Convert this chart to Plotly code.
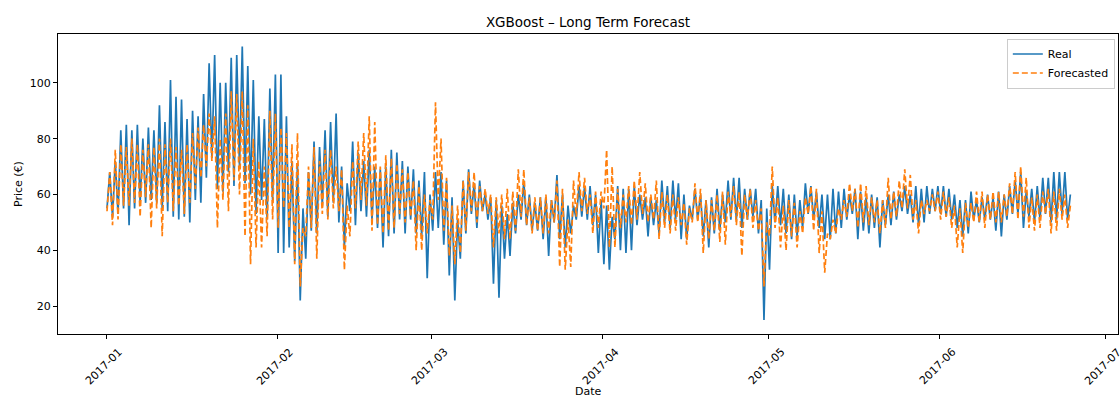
import pandas as pd
import plotly.graph_objects as go

# Daily highs / lows (Jan 1 .. Jun 24, 2017)
real_high = [
    68, 72, 83, 85, 83, 85, 80,
    84, 83, 92, 86, 101, 95, 94,
    87, 90, 88, 96, 107, 110, 100,
    100, 109, 110, 113, 106, 101, 88,
    87, 98, 103, 103, 88, 72, 71,
    55, 68, 79, 77, 83, 86, 89,
    70, 64, 79, 75, 72, 76, 70,
    69, 70, 76, 75, 72, 70, 69,
    65, 68, 60, 68, 68, 65, 59,
    51, 65, 69, 64, 65, 60, 59,
    58, 56, 53, 57, 60, 65, 60,
    57, 59, 59, 58, 67, 60, 56,
    56, 63, 63, 63, 60, 58, 56,
    52, 63, 62, 62, 63, 60, 59,
    59, 58, 65, 63, 65, 64, 60,
    56, 62, 60, 58, 59, 62, 60,
    65, 66, 66, 62, 62, 62, 58,
    55, 63, 63, 62, 60, 60, 58,
    64, 63, 61, 60, 60, 62, 61,
    62, 60, 62, 61, 59, 60, 59,
    58, 60, 61, 60, 63, 60, 63,
    62, 63, 62, 63, 63, 62, 60,
    58, 58, 61, 58, 59, 60, 59,
    61, 60, 63, 65, 68, 61, 62,
    63, 66, 66, 68, 68, 68, 60,
]
real_low = [
    55, 52, 53, 55, 49, 55, 57,
    57, 58, 57, 55, 54, 52, 51,
    52, 50, 58, 57, 66, 73, 62,
    61, 68, 63, 70, 64, 60, 53,
    58, 51, 58, 39, 39, 41, 36,
    22, 37, 47, 46, 56, 52, 57,
    50, 41, 54, 49, 54, 52, 51,
    48, 41, 45, 46, 51, 46, 51,
    46, 45, 30, 47, 48, 42, 31,
    22, 37, 46, 53, 48, 54, 51,
    28, 23, 37, 38, 46, 51, 49,
    47, 47, 44, 38, 50, 44, 41,
    46, 51, 52, 51, 49, 39, 35,
    33, 44, 40, 39, 40, 49, 51,
    45, 49, 46, 50, 48, 51, 44,
    44, 51, 51, 45, 41, 46, 47,
    50, 51, 51, 48, 51, 52, 46,
    15, 33, 50, 49, 46, 44, 45,
    48, 53, 51, 48, 44, 44, 46,
    48, 51, 53, 44, 47, 46, 48,
    41, 49, 49, 51, 54, 53, 50,
    49, 50, 53, 54, 53, 52, 51,
    48, 45, 46, 51, 50, 51, 51,
    47, 45, 51, 53, 53, 48, 52,
    50, 51, 53, 50, 51, 53, 51,
]
fc_high = [
    68, 76, 78, 77, 80, 78, 76,
    78, 77, 80, 78, 80, 77, 76,
    78, 82, 84, 85, 89, 88, 80,
    89, 97, 96, 97, 92, 80, 72,
    70, 90, 89, 84, 82, 78, 82,
    48, 70, 77, 72, 76, 76, 70,
    69, 56, 72, 79, 82, 88, 86,
    70, 74, 73, 71, 69, 68, 65,
    63, 60, 58, 93, 80, 66, 56,
    56, 65, 68, 68, 63, 62, 60,
    59, 60, 62, 61, 69, 69, 59,
    59, 59, 60, 58, 65, 62, 51,
    65, 68, 66, 60, 61, 61, 76,
    70, 62, 60, 63, 65, 68, 64,
    60, 65, 61, 60, 60, 59, 57,
    55, 64, 62, 58, 58, 60, 61,
    61, 63, 61, 60, 62, 58, 55,
    50, 70, 59, 56, 58, 57, 54,
    59, 63, 62, 54, 46, 51, 55,
    58, 64, 62, 64, 63, 59, 58,
    58, 66, 61, 65, 69, 67, 58,
    58, 58, 60, 61, 61, 59, 56,
    55, 57, 57, 61, 61, 60, 61,
    61, 60, 64, 68, 70, 66, 59,
    60, 61, 62, 61, 62, 60, 56,
]
fc_low = [
    54, 49, 51, 56, 56, 57, 52,
    59, 48, 55, 45, 57, 54, 56,
    53, 57, 62, 66, 70, 72, 48,
    58, 54, 65, 60, 45, 35, 41,
    41, 45, 51, 48, 55, 48, 35,
    27, 45, 48, 37, 53, 51, 55,
    54, 33, 45, 55, 58, 56, 47,
    49, 46, 47, 48, 53, 50, 52,
    40, 40, 46, 51, 58, 47, 38,
    35, 39, 47, 54, 50, 54, 53,
    41, 46, 44, 44, 47, 52, 49,
    46, 47, 46, 46, 50, 34, 33,
    34, 52, 54, 53, 46, 48, 55,
    41, 41, 48, 50, 49, 51, 53,
    50, 51, 44, 48, 46, 47, 49,
    42, 50, 50, 39, 44, 47, 43,
    42, 52, 49, 38, 51, 48, 47,
    27, 45, 48, 41, 40, 45, 41,
    46, 53, 47, 39, 32, 44, 46,
    51, 52, 54, 48, 50, 49, 50,
    46, 48, 51, 52, 55, 55, 51,
    46, 53, 54, 54, 51, 52, 48,
    41, 39, 48, 50, 50, 48, 51,
    50, 50, 52, 53, 51, 52, 48,
    47, 48, 53, 46, 47, 51, 48,
]
tick_labels = ["2017-01", "2017-02", "2017-03", "2017-04", "2017-05", "2017-06", "2017-07"]

days = pd.date_range("2017-01-01", periods=len(real_high), freq="D")
times, real, fc = [], [], []
for i, d in enumerate(days):
    times += [d + pd.Timedelta(hours=4), d + pd.Timedelta(hours=16)]
    real += [real_low[i], real_high[i]]
    fc += [fc_low[i], fc_high[i]]

FONT = "DejaVu Sans"
fig = go.Figure()
fig.add_trace(go.Scatter(x=times, y=real, mode="lines", name="Real",
                         line=dict(color="#1f77b4", width=1.7)))
fig.add_trace(go.Scatter(x=times, y=fc, mode="lines", name="Forecasted",
                         line=dict(color="#ff7f0e", width=1.7, dash="6px,3px")))

tick_dates = [t + "-01" for t in tick_labels]
annotations = []
for lab, dt in zip(tick_labels, tick_dates):
    annotations.append(dict(x=dt, y=0, xref="x", yref="paper", text=lab,
                            showarrow=False, textangle=-45, xanchor="center",
                            yanchor="top", yshift=-9, xshift=-2,
                            font=dict(family=FONT, size=11, color="black")))
annotations.append(dict(x=0.5, y=0, xref="paper", yref="paper", text="Date",
                        showarrow=False, xanchor="center", yanchor="middle",
                        yshift=-57, font=dict(family=FONT, size=11, color="black")))
annotations.append(dict(x=0, y=0.5, xref="paper", yref="paper", text="Price (€)",
                        showarrow=False, textangle=-90, xanchor="center",
                        yanchor="middle", xshift=-40,
                        font=dict(family=FONT, size=11, color="black")))

fig.update_layout(
    width=1120, height=396,
    margin=dict(l=58, r=2, t=34, b=62),
    paper_bgcolor="white", plot_bgcolor="white",
    font=dict(family=FONT, size=11, color="black"),
    title=dict(text="XGBoost – Long Term Forecast", x=0.5, xref="paper",
               y=1 - 22 / 396, yref="container", yanchor="middle",
               font=dict(family=FONT, size=13.5, color="black")),
    showlegend=True,
    legend=dict(x=0.997, y=0.985, xanchor="right", yanchor="top",
                bgcolor="rgba(255,255,255,0.8)", bordercolor="#cccccc",
                borderwidth=1, font=dict(family=FONT, size=11, color="black"),
                tracegroupgap=0),
    annotations=annotations,
    xaxis=dict(type="date",
               range=["2016-12-23 07:00", "2017-07-03 07:00"],
               tickvals=tick_dates, showticklabels=False,
               ticks="outside", ticklen=4, tickcolor="black",
               showline=True, linecolor="black", linewidth=1, mirror=True,
               showgrid=False, zeroline=False),
    yaxis=dict(range=[10, 117.5], tickvals=[20, 40, 60, 80, 100],
               ticks="outside", ticklen=4, tickcolor="black",
               showline=True, linecolor="black", linewidth=1, mirror=True,
               showgrid=False, zeroline=False,
               tickfont=dict(family=FONT, size=11, color="black")),
)
fig.write_html("out.html")
